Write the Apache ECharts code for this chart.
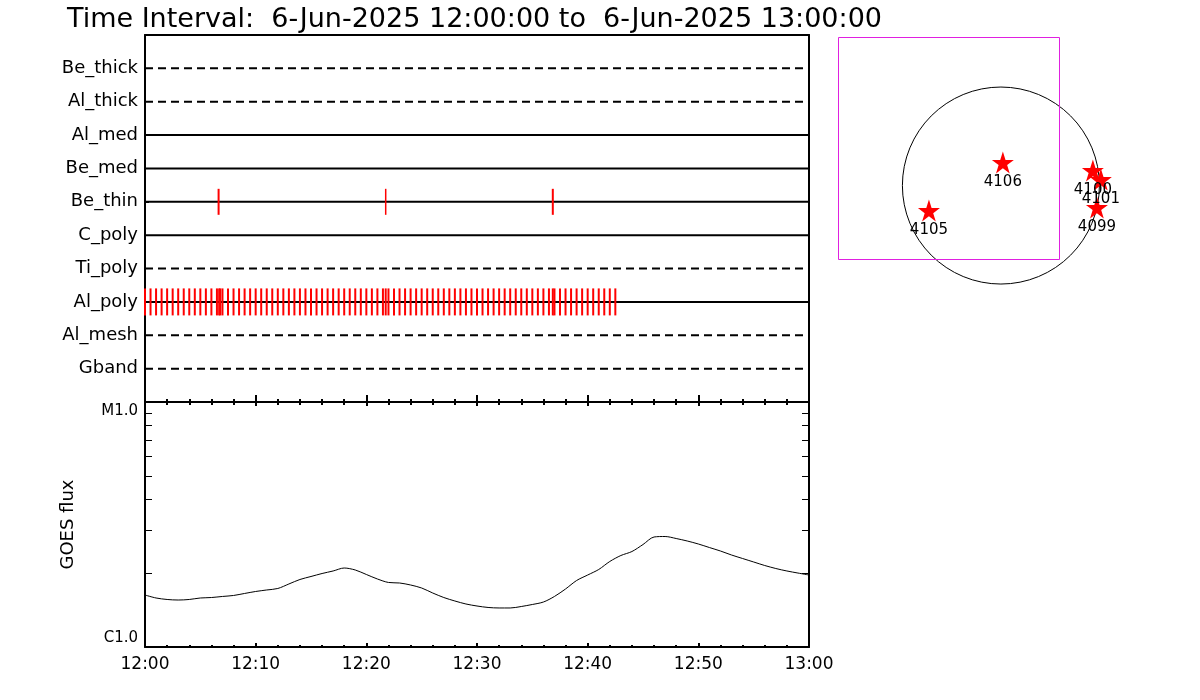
<!DOCTYPE html>
<html>
<head>
<meta charset="utf-8">
<title>Time Interval</title>
<script src="https://cdn.jsdelivr.net/npm/echarts@6/dist/echarts.min.js"></script>
<style>
  html, body { margin: 0; padding: 0; background: #fff; }
  #main { width: 1200px; height: 700px; }
</style>
</head>
<body>
<div id="main"></div>
<script>
  var filters = ['Be_thick', 'Al_thick', 'Al_med', 'Be_med', 'Be_thin', 'C_poly', 'Ti_poly', 'Al_poly', 'Al_mesh', 'Gband'];
  var dashedFilters = ['Be_thick', 'Al_thick', 'Ti_poly', 'Al_mesh', 'Gband'];
  var timeLabels = ['12:00', '12:10', '12:20', '12:30', '12:40', '12:50', '13:00'];

  // exposure times, minutes after 12:00
  var beThinTimes = [6.65, 21.75, 36.85];
  var alPolyTimes = [0, 0.5, 1, 1.5, 2, 2.5, 3, 3.5, 4, 4.5, 5, 5.5, 6, 6.5, 6.7, 6.8, 7, 7.5, 8, 8.5, 9, 9.5,
    10, 10.5, 11, 11.5, 12, 12.5, 13, 13.5, 14, 14.5, 15, 15.5, 16, 16.5, 17, 17.5, 18, 18.5, 19, 19.5,
    20, 20.5, 21, 21.5, 21.75, 22, 22.5, 23, 23.5, 24, 24.5, 25, 25.5, 26, 26.5, 27, 27.5, 28, 28.5, 29, 29.5,
    30, 30.5, 31, 31.5, 32, 32.5, 33, 33.5, 34, 34.5, 35, 35.5, 36, 36.5, 36.85, 37, 37.5, 38, 38.5, 39, 39.5,
    40, 40.5, 41, 41.5, 42, 42.5];

  // GOES flux, units of 1e-6 W/m^2 (C1.0 = 1, M1.0 = 10)
  var goesMinutes = [0, 1, 2, 3, 4, 5, 6, 7, 8, 9, 10, 11, 12, 13, 14, 15, 16, 17, 18, 19, 20,
    21, 22, 23, 24, 25, 26, 27, 28, 29, 30, 31, 32, 33, 34, 35, 36, 37, 38, 39, 40,
    41, 42, 43, 44, 45, 46, 47, 48, 49, 50, 51, 52, 53, 54, 55, 56, 57, 58, 59, 60];
  var goesFlux = [1.630, 1.585, 1.563, 1.555, 1.563, 1.585, 1.592, 1.608, 1.623, 1.654, 1.685,
    1.709, 1.733, 1.808, 1.886, 1.940, 1.995, 2.043, 2.101, 2.062, 1.977,
    1.895, 1.834, 1.825, 1.791, 1.741, 1.661, 1.592, 1.541, 1.498, 1.470,
    1.450, 1.443, 1.443, 1.463, 1.491, 1.526, 1.608, 1.725, 1.868, 1.967,
    2.072, 2.234, 2.363, 2.453, 2.620, 2.812, 2.825, 2.772, 2.708, 2.633,
    2.547, 2.465, 2.374, 2.297, 2.223, 2.151, 2.091, 2.043, 2.004, 1.967];
  var fluxTicks = [1, 2, 3, 4, 5, 6, 7, 8, 9, 10];
  var fluxLabels = { 1: 'C1.0', 10: 'M1.0' };

  // active regions on the disk, arcsec
  var regions = ['4106', '4105', '4100', '4101', '4099'];
  var regionX = [19, -694, 887, 964, 926];
  var regionY = [222, -241, 145, 58, -212];
  var sunRadius = 950;
  var fovBox = [-1572, -704, 559, 1437];

  var FONT = 'DejaVu Sans';
  var rowOf = function (name) { return filters.indexOf(name) + 1; };
  var blackLine = { onZero: false, lineStyle: { color: '#000', width: 2 } };
  var crisp = function (v) { return Math.round(v) + 0.5; };

  var chart = echarts.init(document.getElementById('main'));

  var rowSeries = filters.map(function (f, i) {
    return {
      type: 'line',
      name: f,
      xAxisIndex: 0,
      yAxisIndex: 0,
      data: [[0, i + 1], [60, i + 1]],
      symbol: 'none',
      silent: true,
      lineStyle: {
        color: '#000',
        width: 2,
        type: dashedFilters.indexOf(f) >= 0 ? [8, 5] : 'solid'
      },
      z: 2
    };
  });

  var option = {
    animation: false,
    backgroundColor: '#fff',
    title: {
      text: 'Time Interval:  6-Jun-2025 12:00:00 to  6-Jun-2025 13:00:00',
      left: 62,
      top: 1,
      textStyle: { fontFamily: FONT, fontSize: 27, fontWeight: 'normal', color: '#000' }
    },
    grid: [
      { left: 145, top: 35, width: 664, height: 367 },
      { left: 145, top: 402, width: 664, height: 245 },
      { left: 835, top: 30, width: 300.7, height: 269.6 }
    ],
    xAxis: [
      {
        gridIndex: 0, type: 'value', min: 0, max: 60, interval: 10, position: 'bottom',
        axisLine: blackLine,
        axisTick: { inside: true, length: 7, lineStyle: { color: '#000', width: 2 } },
        minorTick: { show: true, splitNumber: 5, length: 3, lineStyle: { color: '#000', width: 2 } },
        axisLabel: { show: false },
        splitLine: { show: false }
      },
      {
        gridIndex: 0, type: 'value', min: 0, max: 60, position: 'top',
        axisLine: blackLine,
        axisTick: { show: false }, axisLabel: { show: false }, splitLine: { show: false }
      },
      {
        gridIndex: 1, type: 'value', min: 0, max: 60, interval: 10, position: 'bottom',
        axisLine: blackLine,
        axisTick: { inside: true, length: 4, lineStyle: { color: '#000', width: 2 } },
        minorTick: { show: true, splitNumber: 5, length: 2, lineStyle: { color: '#000', width: 2 } },
        axisLabel: {
          margin: 9, color: '#000', fontFamily: FONT, fontSize: 17,
          formatter: function (v) { return timeLabels[Math.round(v / 10)]; }
        },
        splitLine: { show: false }
      },
      {
        gridIndex: 1, type: 'value', min: 0, max: 60, interval: 10, position: 'top',
        axisLine: blackLine,
        axisTick: { inside: true, length: 4, lineStyle: { color: '#000', width: 2 } },
        minorTick: { show: true, splitNumber: 5, length: 3, lineStyle: { color: '#000', width: 2 } },
        axisLabel: { show: false },
        splitLine: { show: false }
      },
      { gridIndex: 2, type: 'value', min: -1600, max: 1300, show: false }
    ],
    yAxis: [
      {
        gridIndex: 0, type: 'value', min: 0, max: 11, inverse: true, position: 'left',
        axisLine: blackLine,
        axisTick: {
          inside: true, length: 4, customValues: filters.map(function (f, i) { return i + 1; }),
          lineStyle: { color: '#000', width: 1 }
        },
        axisLabel: {
          margin: 7, color: '#000', fontFamily: FONT, fontSize: 18,
          customValues: filters.map(function (f, i) { return i + 1; }),
          formatter: function (v) { return filters[v - 1]; }
        },
        splitLine: { show: false }
      },
      {
        gridIndex: 0, type: 'value', min: 0, max: 11, position: 'right',
        axisLine: { show: true, onZero: false, lineStyle: { color: '#000', width: 2 } },
        axisTick: { show: false }, axisLabel: { show: false }, splitLine: { show: false }
      },
      {
        gridIndex: 1, type: 'log', logBase: 10, min: 1, max: 10, position: 'left',
        name: 'GOES flux', nameLocation: 'middle', nameGap: 68, nameRotate: 90,
        nameTextStyle: { color: '#000', fontFamily: FONT, fontSize: 18 },
        axisLine: { show: true, onZero: false, lineStyle: { color: '#000', width: 2 } },
        axisTick: { inside: true, length: 7, customValues: fluxTicks, lineStyle: { color: '#000', width: 1 } },
        axisLabel: {
          margin: 7, color: '#000', fontFamily: FONT, fontSize: 15,
          customValues: [1, 10],
          formatter: function (v) {
            return v > 5 ? '{hi|' + fluxLabels[10] + '}' : '{lo|' + fluxLabels[1] + '}';
          },
          rich: {
            hi: { fontFamily: FONT, fontSize: 15, color: '#000', padding: [18, 0, 0, 0] },
            lo: { fontFamily: FONT, fontSize: 15, color: '#000', padding: [0, 0, 17, 0] }
          }
        },
        splitLine: { show: false }
      },
      {
        gridIndex: 1, type: 'log', logBase: 10, min: 1, max: 10, position: 'right',
        axisLine: { show: true, onZero: false, lineStyle: { color: '#000', width: 2 } },
        axisTick: { inside: true, length: 7, customValues: fluxTicks, lineStyle: { color: '#000', width: 1 } },
        axisLabel: { show: false },
        splitLine: { show: false }
      },
      { gridIndex: 2, type: 'value', min: -1100, max: 1500, show: false }
    ],
    series: rowSeries.concat([
      {
        type: 'scatter',
        name: 'Be_thin exposures',
        xAxisIndex: 0, yAxisIndex: 0,
        data: beThinTimes.map(function (t) { return [t, rowOf('Be_thin')]; }),
        symbol: 'rect',
        symbolSize: function (v, p) { return p.dataIndex === 1 ? [1.5, 26] : [2, 26]; },
        itemStyle: { color: '#ff0000', opacity: 1 },
        silent: true,
        z: 3
      },
      {
        type: 'scatter',
        name: 'Al_poly exposures',
        xAxisIndex: 0, yAxisIndex: 0,
        data: alPolyTimes.map(function (t) { return [t, rowOf('Al_poly')]; }),
        symbol: 'rect',
        symbolSize: [2, 27],
        itemStyle: { color: '#ff0000', opacity: 1 },
        silent: true,
        z: 3
      },
      {
        type: 'line',
        name: 'GOES',
        xAxisIndex: 2, yAxisIndex: 2,
        data: goesMinutes.map(function (t, i) { return [t, goesFlux[i]]; }),
        symbol: 'none',
        smooth: 0.3,
        lineStyle: { color: '#000', width: 1 },
        silent: true
      },
      {
        type: 'custom',
        name: 'disk',
        coordinateSystem: 'cartesian2d',
        xAxisIndex: 4, yAxisIndex: 4,
        data: [[0, 0, sunRadius]],
        renderItem: function (params, api) {
          var c = api.coord([api.value(0), api.value(1)]);
          var r = api.size([api.value(2), 0])[0];
          return {
            type: 'circle',
            shape: { cx: c[0], cy: c[1], r: r },
            style: { fill: 'none', stroke: '#000', lineWidth: 1 }
          };
        },
        silent: true
      },
      {
        type: 'custom',
        name: 'fov',
        coordinateSystem: 'cartesian2d',
        xAxisIndex: 4, yAxisIndex: 4,
        data: [fovBox],
        renderItem: function (params, api) {
          var p1 = api.coord([api.value(0), api.value(3)]);
          var p2 = api.coord([api.value(2), api.value(1)]);
          var x0 = crisp(p1[0]), y0 = crisp(p1[1]);
          return {
            type: 'rect',
            shape: { x: x0, y: y0, width: crisp(p2[0]) - x0, height: crisp(p2[1]) - y0 },
            style: { fill: 'none', stroke: '#e020e0', lineWidth: 1 }
          };
        },
        silent: true
      },
      {
        type: 'scatter',
        name: 'regions',
        xAxisIndex: 4, yAxisIndex: 4,
        data: regions.map(function (r, i) { return [regionX[i], regionY[i], r]; }),
        symbol: 'path://M50,0 L61.8,35.5 L99,35.5 L69,57.5 L80.5,93 L50,71 L19.5,93 L31,57.5 L1,35.5 L38.2,35.5 Z',
        symbolSize: 22,
        itemStyle: { color: '#ff0000', opacity: 1 },
        label: {
          show: true, position: 'bottom', distance: 1,
          color: '#000', fontFamily: FONT, fontSize: 15,
          formatter: function (p) { return p.data[2]; }
        },
        silent: true,
        z: 4
      }
    ])
  };

  chart.setOption(option);
  window.addEventListener('resize', function () {
    chart.resize();
  });
</script>
</body>
</html>
